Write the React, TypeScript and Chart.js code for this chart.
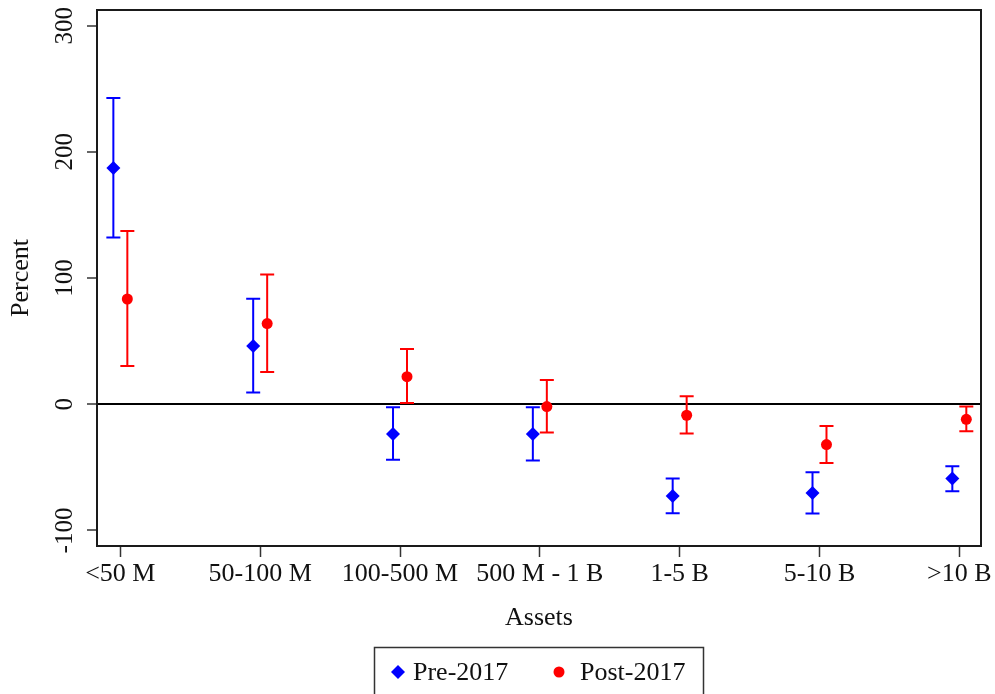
import React, { useEffect, useRef } from "react";
import { Chart, registerables } from "chart.js";
Chart.register(...registerables);

const categories = ["<50 M", "50-100 M", "100-500 M", "500 M - 1 B", "1-5 B", "5-10 B", ">10 B"];
const preMean = [187.2, 46.2, -23.5, -23.5, -72.6, -70.3, -58.9];
const preLow = [132.1, 9.3, -44.0, -44.6, -86.4, -86.6, -68.9];
const preHigh = [242.7, 83.7, -2.4, -2.4, -58.9, -53.9, -49.1];
const postMean = [83.4, 63.9, 21.9, -1.8, -8.7, -31.9, -11.9];
const postLow = [30.3, 25.6, 1.0, -22.4, -23.2, -46.5, -21.4];
const postHigh = [137.3, 102.8, 43.8, 19.3, 6.3, -17.2, -1.8];
const yTicks = [-100, 0, 100, 200, 300];
const seriesNames = ["Pre-2017", "Post-2017"];

const FONT = "'Liberation Serif', 'Times New Roman', serif";
const SERIES_SHIFT = 0.05;

const errorBarPlugin = {
  id: "errorBars",
  beforeDatasetsDraw(chart: any) {
    const ctx = chart.ctx;
    const xs = chart.scales.x;
    const ys = chart.scales.y;
    chart.data.datasets.forEach((ds: any) => {
      ctx.save();
      ctx.strokeStyle = ds.borderColor;
      ctx.lineWidth = 2;
      ds.data.forEach((d: any) => {
        const px = xs.getPixelForValue(d.x);
        const pLo = ys.getPixelForValue(d.lo);
        const pHi = ys.getPixelForValue(d.hi);
        const cap = 7;
        ctx.beginPath();
        ctx.moveTo(px, pLo);
        ctx.lineTo(px, pHi);
        ctx.moveTo(px - cap, pLo);
        ctx.lineTo(px + cap, pLo);
        ctx.moveTo(px - cap, pHi);
        ctx.lineTo(px + cap, pHi);
        ctx.stroke();
      });
      ctx.restore();
    });
  },
};

const decorPlugin = {
  id: "decor",
  afterDraw(chart: any) {
    const ctx = chart.ctx;
    const a = chart.chartArea;
    const ys = chart.scales.y;
    ctx.save();
    // frame
    ctx.strokeStyle = "#1a1a1a";
    ctx.lineWidth = 2;
    ctx.strokeRect(a.left, a.top, a.right - a.left, a.bottom - a.top);
    // y tick labels rotated
    ctx.fillStyle = "#111";
    ctx.font = `25px ${FONT}`;
    ctx.textAlign = "center";
    ctx.textBaseline = "middle";
    yTicks.forEach((v) => {
      const py = ys.getPixelForValue(v);
      ctx.save();
      ctx.translate(a.left - 32, py);
      ctx.rotate(-Math.PI / 2);
      ctx.fillText(String(v), 0, 0);
      ctx.restore();
    });
    // y title
    ctx.font = `26px ${FONT}`;
    ctx.save();
    ctx.translate(a.left - 76, (a.top + a.bottom) / 2);
    ctx.rotate(-Math.PI / 2);
    ctx.fillText("Percent", 0, 0);
    ctx.restore();
    // x title
    ctx.fillText("Assets", (a.left + a.right) / 2, a.bottom + 72);
    // legend box
    const cx = (a.left + a.right) / 2;
    const bx = cx - 165;
    const by = a.bottom + 101;
    ctx.strokeStyle = "#333";
    ctx.lineWidth = 1.5;
    ctx.strokeRect(bx + 0.5, by + 0.5, 329, 80);
    const midY = by + 25;
    // pre marker
    ctx.fillStyle = "#0000ff";
    ctx.beginPath();
    ctx.moveTo(bx + 17, midY);
    ctx.lineTo(bx + 24, midY - 7);
    ctx.lineTo(bx + 31, midY);
    ctx.lineTo(bx + 24, midY + 7);
    ctx.closePath();
    ctx.fill();
    ctx.fillStyle = "#ff0000";
    ctx.beginPath();
    ctx.arc(bx + 185, midY, 5.5, 0, Math.PI * 2);
    ctx.fill();
    ctx.fillStyle = "#111";
    ctx.textAlign = "left";
    ctx.fillText(seriesNames[0], bx + 39, midY + 1);
    ctx.fillText(seriesNames[1], bx + 206, midY + 1);
    ctx.restore();
  },
};

export default function App() {
  const ref = useRef<HTMLCanvasElement | null>(null);
  useEffect(() => {
    if (!ref.current) return;
    const pre = categories.map((_, i) => ({ x: i - SERIES_SHIFT, y: preMean[i], lo: preLow[i], hi: preHigh[i] }));
    const post = categories.map((_, i) => ({ x: i + SERIES_SHIFT, y: postMean[i], lo: postLow[i], hi: postHigh[i] }));
    const chart = new Chart(ref.current, {
      type: "scatter",
      data: {
        datasets: [
          {
            label: seriesNames[0],
            data: pre,
            pointStyle: "rectRot",
            pointRadius: 7,
            borderWidth: 0,
            backgroundColor: "#0000ff",
            borderColor: "#0000ff",
          },
          {
            label: seriesNames[1],
            data: post,
            pointStyle: "circle",
            pointRadius: 5.5,
            borderWidth: 0,
            backgroundColor: "#ff0000",
            borderColor: "#ff0000",
          },
        ],
      } as any,
      options: {
        responsive: false,
        animation: false,
        devicePixelRatio: 1,
        layout: { padding: { left: 0, right: 14, top: 10, bottom: 0 } },
        plugins: { legend: { display: false }, tooltip: { enabled: false } },
        scales: {
          x: {
            type: "linear",
            min: -0.167,
            max: 6.155,
            afterBuildTicks: (s: any) => {
              s.ticks = categories.map((_, i) => ({ value: i }));
            },
            afterFit: (s: any) => {
              s.height = 148;
            },
            border: { display: false },
            grid: { drawOnChartArea: false, tickLength: 11, tickColor: "#333", tickWidth: 1.5 },
            ticks: {
              color: "#111",
              font: { family: FONT, size: 26 },
              padding: 2,
              maxRotation: 0,
              autoSkip: false,
              callback: (v: any) => categories[v as number] ?? "",
            },
          },
          y: {
            type: "linear",
            min: -112.3,
            max: 312.4,
            afterBuildTicks: (s: any) => {
              s.ticks = yTicks.map((v) => ({ value: v }));
            },
            afterFit: (s: any) => {
              s.width = 97;
            },
            border: { display: false },
            grid: {
              drawOnChartArea: true,
              color: (c: any) => (c.tick && c.tick.value === 0 ? "#000" : "rgba(0,0,0,0)"),
              lineWidth: 2,
              tickLength: 10,
              tickColor: "#333",
              tickWidth: 1.5,
            },
            ticks: { display: false },
          },
        },
      } as any,
      plugins: [errorBarPlugin, decorPlugin],
    });
    return () => chart.destroy();
  }, []);
  return (
    <div style={{ position: "fixed", left: 0, top: 0, width: 995, height: 694, background: "#fff" }}>
      <canvas ref={ref} width={995} height={694} />
    </div>
  );
}
